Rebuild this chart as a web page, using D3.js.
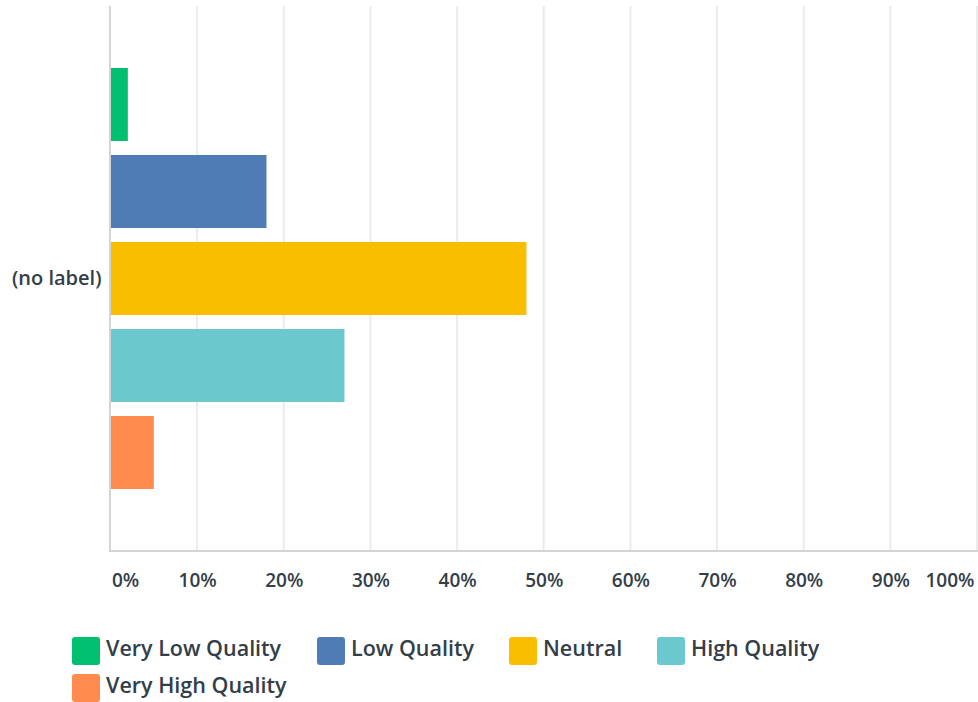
<!DOCTYPE html>
<html><head><meta charset="utf-8">
<script src="https://cdn.jsdelivr.net/npm/d3@7"></script>
<style>body{margin:0;background:#fff;}svg{display:block;font-family:"Open Sans",sans-serif;} text{font-family:"Open Sans",sans-serif;}</style>
</head><body><svg id="c" width="978" height="702"></svg>
<script>
const categories = ["(no label)"];
const series = ["Very Low Quality","Low Quality","Neutral","High Quality","Very High Quality"];
const values = [2, 18, 48, 27, 5];
const colors = ["#00bf6f","#507cb6","#f9be00","#6bc8cd","#ff8b4f"];
const ticks = [0,10,20,30,40,50,60,70,80,90,100];

const svg = d3.select("#c");
const pLeft = 110.5, pRight = 977, pTop = 6, pBottom = 551;
const x = d3.scaleLinear().domain([0,100]).range([pLeft,pRight]);
const y0 = d3.scaleBand().domain(categories).range([pTop,pBottom]);
const y1 = d3.scaleBand().domain(series).range([62, y0.bandwidth()-62]).paddingInner(14/87).paddingOuter(0);

// gridlines
svg.append("g").selectAll("line").data(ticks.slice(1)).join("line")
  .attr("x1",d=>x(d)).attr("x2",d=>x(d)).attr("y1",pTop).attr("y2",pBottom)
  .attr("stroke","#ebebeb").attr("stroke-width",2);

// bars
const g = svg.append("g").attr("transform",`translate(0,${y0(categories[0])})`);
g.selectAll("rect").data(values).join("rect")
  .attr("x",x(0)).attr("y",(d,i)=>y1(series[i]))
  .attr("width",d=>x(d)-x(0)).attr("height",y1.bandwidth())
  .attr("fill",(d,i)=>colors[i]);

// axes lines
svg.append("line").attr("x1",pLeft-0.5).attr("x2",pLeft-0.5).attr("y1",pTop).attr("y2",pBottom+1)
  .attr("stroke","#d4d4d4").attr("stroke-width",2);
svg.append("line").attr("x1",pLeft-1.5).attr("x2",pRight+1).attr("y1",pBottom).attr("y2",pBottom)
  .attr("stroke","#d4d4d4").attr("stroke-width",2);

// x tick labels
const xa = d3.axisBottom(x).tickValues(ticks).tickFormat(d=>d+"%").tickSize(0).tickPadding(0);
const ax = svg.append("g").attr("transform",`translate(0,587)`).call(xa);
ax.attr("font-family",null).attr("font-size",null);
ax.select(".domain").remove();
ax.selectAll("text").attr("dy",0).attr("fill","#333e48").style("font-size","19px").style("font-weight","600")
  .attr("text-anchor",d=>d===0?"start":(d===100?"end":"middle"))
  .attr("x",d=>d===0?1:(d===100?-3:0));

// y label
const ya = d3.axisLeft(y0).tickSize(0).tickPadding(9);
const ay = svg.append("g").attr("transform",`translate(${pLeft},0)`).call(ya);
ay.attr("font-family",null).attr("font-size",null);
ay.select(".domain").remove();
ay.selectAll("text").attr("fill","#333e48").style("font-size","20px").style("font-weight","600");

// legend
const legPos = [[72,637],[317,637],[509,637],[657,637],[72,674]];
const lg = svg.append("g").selectAll("g").data(series).join("g")
  .attr("transform",(d,i)=>`translate(${legPos[i][0]},${legPos[i][1]})`);
lg.append("rect").attr("width",28).attr("height",28).attr("rx",3).attr("fill",(d,i)=>colors[i]);
lg.append("text").attr("x",34).attr("y",19).text(d=>d).attr("fill","#333e48")
  .style("font-size","21.5px").style("font-weight","600");
</script></body></html>
